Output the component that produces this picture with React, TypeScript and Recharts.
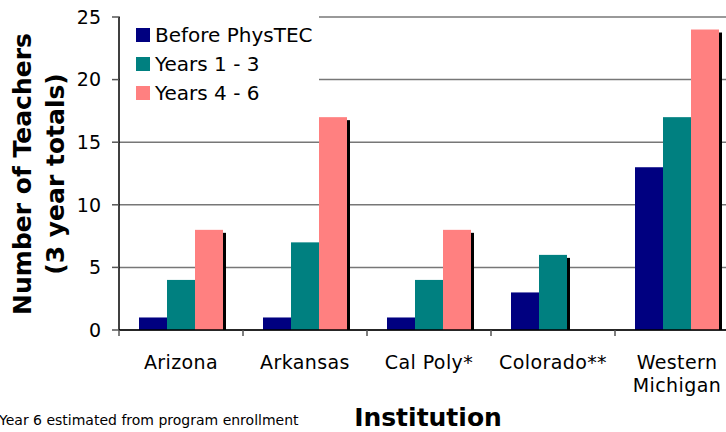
import React from 'react'
import { Bar, BarChart, CartesianGrid, XAxis, YAxis } from 'recharts'

// Chart values
const institutions = ['Arizona', 'Arkansas', 'Cal Poly*', 'Colorado**', 'Western\nMichigan']
const beforePhysTEC = [1, 1, 1, 3, 13]
const years1to3 = [4, 7, 4, 6, 17]
const years4to6 = [8, 17, 8, 0, 24]
const yTicks = [0, 5, 10, 15, 20, 25]

const seriesNames = ['Before PhysTEC', 'Years 1 - 3', 'Years 4 - 6']
const colors = ['#000080', '#008080', '#FF8080']

const data = institutions.map((name, i) => ({
  name,
  before: beforePhysTEC[i],
  y13: years1to3[i],
  y46: years4to6[i],
}))

const FONT = '"DejaVu Sans", Verdana, sans-serif'
const CHART_W = 745
const CHART_H = 432
const LEFT = 119
const RIGHT = 6
const BAND = (CHART_W - LEFT - RIGHT) / institutions.length

// Bar with a small black drop shadow on the right / bottom
const ShadowBar = (props: any) => {
  const { x, y, width, height, fill } = props
  if (!height || height <= 0) return null
  return (
    <g>
      <rect x={x + 3} y={y + 3} width={width} height={Math.max(0, height - 3)} fill="#000" />
      <rect x={x} y={y} width={width} height={height} fill={fill} />
    </g>
  )
}

// Category label with boundary tick mark to its left
const CategoryTick = (props: any) => {
  const { x, y, payload } = props
  const lines = String(payload.value).split('\n')
  return (
    <g>
      <line x1={x - BAND / 2} x2={x - BAND / 2} y1={y} y2={y + 6} stroke="#555" strokeWidth={1.5} />
      <text
        x={x}
        y={y + 39}
        textAnchor="middle"
        fill="#000"
        fontSize={19}
        letterSpacing={0.4}
        fontFamily={FONT}
      >
        {lines.map((l, i) => (
          <tspan key={i} x={x} dy={i === 0 ? 0 : 23}>
            {l}
          </tspan>
        ))}
      </text>
    </g>
  )
}

const LegendBox = () => (
  <div
    style={{
      position: 'absolute',
      left: 120,
      top: 14,
      background: '#fff',
      width: 199,
      height: 92,
      paddingTop: 6,
      boxSizing: 'border-box',
      fontFamily: FONT,
      fontSize: 20,
      color: '#000',
    }}
  >
    {seriesNames.map((s, i) => (
      <div key={s} style={{ display: 'flex', alignItems: 'center', height: 29, paddingLeft: 16 }}>
        <span
          style={{
            width: 14,
            height: 14,
            background: colors[i],
            display: 'inline-block',
            marginRight: 5,
          }}
        />
        <span>{s}</span>
      </div>
    ))}
  </div>
)

export default function App() {
  return (
    <div
      style={{
        position: 'absolute',
        left: 0,
        top: 0,
        width: 726,
        height: 432,
        overflow: 'hidden',
        background: '#fff',
      }}
    >
      <BarChart
        width={CHART_W}
        height={CHART_H}
        data={data}
        margin={{ top: 17, right: RIGHT, left: 0, bottom: 0 }}
        barCategoryGap={20}
        barGap={0}
      >
        <CartesianGrid vertical={false} stroke="#777" strokeWidth={1.5} />
        <XAxis
          dataKey="name"
          height={102}
          axisLine={{ stroke: '#000', strokeWidth: 1.5 }}
          tickLine={false}
          tickSize={0}
          tickMargin={0}
          interval={0}
          tick={<CategoryTick />}
        />
        <YAxis
          width={LEFT}
          domain={[0, 25]}
          ticks={yTicks}
          interval={0}
          axisLine={{ stroke: '#000', strokeWidth: 1.5 }}
          tickLine={{ stroke: '#555', strokeWidth: 1.5 }}
          tickSize={7}
          tickMargin={11}
          tick={{ fill: '#000', fontSize: 19, fontFamily: FONT }}
        />
        <Bar dataKey="before" name={seriesNames[0]} fill={colors[0]} shape={<ShadowBar />} isAnimationActive={false} />
        <Bar dataKey="y13" name={seriesNames[1]} fill={colors[1]} shape={<ShadowBar />} isAnimationActive={false} />
        <Bar dataKey="y46" name={seriesNames[2]} fill={colors[2]} shape={<ShadowBar />} isAnimationActive={false} />
      </BarChart>
      <LegendBox />
      <svg
        width={726}
        height={432}
        style={{ position: 'absolute', left: 0, top: 0, pointerEvents: 'none' }}
      >
        <g fontFamily={FONT} fontWeight="bold" fontSize={25} fill="#000">
          <text x={22} y={174} transform="rotate(-90 22 174)" textAnchor="middle" dominantBaseline="central">
            Number of Teachers
          </text>
          <text x={55} y={174} transform="rotate(-90 55 174)" textAnchor="middle" dominantBaseline="central">
            (3 year totals)
          </text>
          <text x={428} y={426} textAnchor="middle" fontSize={25}>
            Institution
          </text>
        </g>
        <text x={-1} y={425} fontFamily={FONT} fontSize={14} fill="#000">
          Year 6 estimated from program enrollment
        </text>
      </svg>
    </div>
  )
}
